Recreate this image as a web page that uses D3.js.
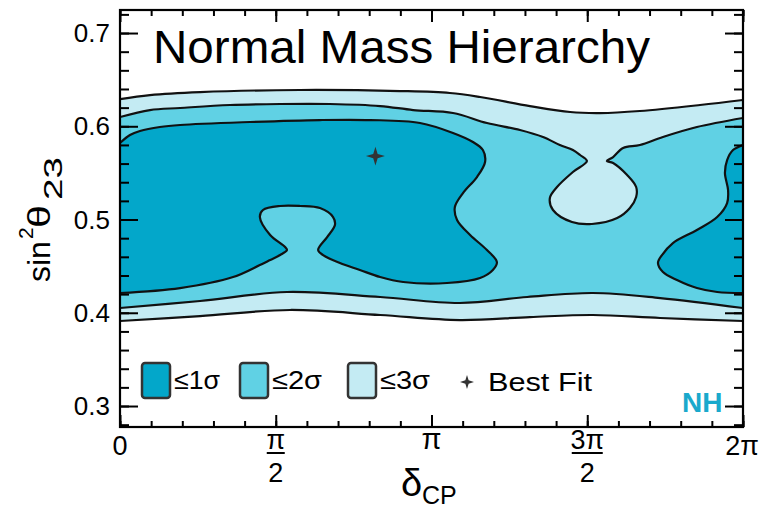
<!DOCTYPE html>
<html>
<head>
<meta charset="utf-8">
<script src="https://cdn.jsdelivr.net/npm/d3@7"></script>
<style>
  body { margin: 0; background: #fff; }
  svg { display: block; }
  text { font-family: "Liberation Sans", Arial, Helvetica, sans-serif; fill: #000; }
</style>
</head>
<body>
<div id="vis"></div>
<script>
'use strict'

////////////////////////////////////////
/////////////// Data ///////////////////
////////////////////////////////////////

// contour points: [deltaCP / pi, sin^2(theta23)]
const sigma3Top = [[0, 0.6292], [0.096, 0.6335], [0.257, 0.6367], [0.578, 0.6389], [0.899, 0.6378],
  [1.059, 0.6357], [1.156, 0.6314], [1.316, 0.6217], [1.445, 0.6153], [1.541, 0.6142],
  [1.669, 0.6164], [1.862, 0.6228], [2.0, 0.6282]];
const sigma3Bottom = [[0, 0.3912], [0.257, 0.3965], [0.546, 0.4030], [0.835, 0.3976], [1.091, 0.3922],
  [1.316, 0.3954], [1.518, 0.3976], [1.734, 0.3944], [2.0, 0.3912]];

const sigma2Top = [[0, 0.6099], [0.096, 0.6174], [0.193, 0.6196], [0.353, 0.6228], [0.514, 0.6239],
  [0.674, 0.6239], [0.835, 0.6217], [0.941, 0.6174], [1.069, 0.6142], [1.178, 0.6035],
  [1.284, 0.5960], [1.358, 0.5885], [1.412, 0.5799], [1.454, 0.5745], [1.477, 0.5692],
  [1.499, 0.5627],
  // island around 3pi/2
  [1.454, 0.5510], [1.403, 0.5349], [1.380, 0.5231], [1.390, 0.5102], [1.451, 0.4973],
  [1.515, 0.4952], [1.596, 0.5016], [1.637, 0.5124], [1.657, 0.5241], [1.657, 0.5349],
  [1.628, 0.5477], [1.583, 0.5606], [1.563, 0.5627],
  [1.583, 0.5670], [1.615, 0.5767], [1.669, 0.5799], [1.743, 0.5885], [1.852, 0.5992], [2.0, 0.6089]];
const sigma2Bottom = [[0, 0.4051], [0.257, 0.4126], [0.536, 0.4223], [0.835, 0.4169], [1.091, 0.4105],
  [1.307, 0.4169], [1.518, 0.4212], [1.734, 0.4158], [2.0, 0.4051]];

const sigma1Left = [[0, 0.5820], [0.032, 0.5906], [0.064, 0.5949], [0.128, 0.5992], [0.193, 0.6014],
  [0.417, 0.6046], [0.642, 0.6067], [0.803, 0.6067], [0.963, 0.6035], [1.069, 0.5928],
  [1.133, 0.5831], [1.165, 0.5745], [1.172, 0.5617], [1.146, 0.5456], [1.101, 0.5284],
  [1.075, 0.5134], [1.082, 0.4995], [1.124, 0.4834], [1.178, 0.4673], [1.210, 0.4544],
  [1.197, 0.4459], [1.156, 0.4373], [1.050, 0.4319], [0.909, 0.4330], [0.835, 0.4383],
  [0.770, 0.4459], [0.706, 0.4534], [0.652, 0.4619], [0.636, 0.4673], [0.665, 0.4812],
  [0.690, 0.4941], [0.684, 0.5027], [0.642, 0.5123], [0.578, 0.5145], [0.514, 0.5145],
  [0.459, 0.5102], [0.449, 0.5027], [0.482, 0.4834], [0.530, 0.4705], [0.536, 0.4673],
  [0.514, 0.4619], [0.482, 0.4566], [0.449, 0.4512], [0.363, 0.4383], [0.193, 0.4265],
  [0, 0.4212]];
const sigma1Right = [[2.0, 0.5799], [1.968, 0.5745], [1.949, 0.5638], [1.942, 0.5499], [1.952, 0.5316],
  [1.949, 0.5177], [1.917, 0.5027], [1.852, 0.4888], [1.775, 0.4748], [1.740, 0.4619],
  [1.727, 0.4534], [1.743, 0.4437], [1.788, 0.4351], [1.852, 0.4265], [1.917, 0.4223],
  [2.0, 0.4212]];

const bestFit = [0.82, 0.568];

const legendLabels = ["≤1σ", "≤2σ", "≤3σ"];
const legendColors = ["#03a7ca", "#60d1e4", "#c4ebf3"];

const yTicks = [0.3, 0.4, 0.5, 0.6, 0.7];
const yTickLabels = ["0.3", "0.4", "0.5", "0.6", "0.7"];
const xTicks = [0, 0.5, 1, 1.5, 2];

////////////////////////////////////////
////////////// SVG Setup ///////////////
////////////////////////////////////////

const width = 761, height = 508;
const plot = { left: 120, right: 743, top: 10, bottom: 427 };

const svg = d3.select('#vis').append('svg')
  .attr('width', width)
  .attr('height', height);

const x = d3.scaleLinear().domain([0, 2]).range([plot.left, plot.right]);
const y = d3.scaleLinear().domain([0.2775, 0.7247]).range([plot.bottom, plot.top]);

svg.append('defs').append('clipPath').attr('id', 'clip')
  .append('rect')
  .attr('x', plot.left).attr('y', plot.top)
  .attr('width', plot.right - plot.left).attr('height', plot.bottom - plot.top);

////////////////////////////////////////
////////////// Contours ////////////////
////////////////////////////////////////

const line = d3.line()
  .x(d => x(d[0]))
  .y(d => y(d[1]))
  .curve(d3.curveCatmullRom.alpha(0.5));

const band = (top, bottom) => line(top) + line(bottom.slice().reverse()).replace(/^M/, 'L') + 'Z';

const g = svg.append('g').attr('clip-path', 'url(#clip)');

g.append('path').attr('d', band(sigma3Top, sigma3Bottom)).attr('fill', legendColors[2]);
g.append('path').attr('d', band(sigma2Top, sigma2Bottom)).attr('fill', legendColors[1]);
g.append('path').attr('d', line(sigma1Left) + 'Z').attr('fill', legendColors[0]);
g.append('path').attr('d', line(sigma1Right) + 'Z').attr('fill', legendColors[0]);

[sigma3Top, sigma3Bottom, sigma2Top, sigma2Bottom, sigma1Left, sigma1Right].forEach(c => {
  g.append('path')
    .attr('d', line(c))
    .attr('fill', 'none')
    .attr('stroke', '#111')
    .attr('stroke-width', 2.2)
    .attr('stroke-linejoin', 'round');
});

// 4-point star symbol
const star4 = {
  draw(ctx, size) {
    const r = Math.sqrt(size), ri = r * 0.33;
    for (let i = 0; i < 8; i++) {
      const a = i * Math.PI / 4 - Math.PI / 2;
      const rr = i % 2 ? ri : r;
      if (i === 0) ctx.moveTo(rr * Math.cos(a), rr * Math.sin(a));
      else ctx.lineTo(rr * Math.cos(a), rr * Math.sin(a));
    }
    ctx.closePath();
  }
};

svg.append('path')
  .attr('d', d3.symbol(star4, 90)())
  .attr('transform', `translate(${x(bestFit[0])},${y(bestFit[1])})`)
  .attr('fill', '#333');

////////////////////////////////////////
//////////////// Axes //////////////////
////////////////////////////////////////

const yMinor = d3.ticks(0.28, 0.72, 22);
const xMinor = d3.ticks(0, 2, 20);

function addAxis(axis, tf) {
  const a = svg.append('g').attr('transform', tf).call(axis);
  a.select('.domain').remove();
  a.selectAll('line').attr('stroke', '#000').attr('stroke-width', 2);
  a.selectAll('text').remove();
}

addAxis(d3.axisLeft(y).tickValues(yMinor).tickSize(-9), `translate(${plot.left},0)`);
addAxis(d3.axisLeft(y).tickValues(yTicks).tickSize(-18), `translate(${plot.left},0)`);
addAxis(d3.axisRight(y).tickValues(yMinor).tickSize(-9), `translate(${plot.right},0)`);
addAxis(d3.axisRight(y).tickValues(yTicks).tickSize(-18), `translate(${plot.right},0)`);
addAxis(d3.axisBottom(x).tickValues(xMinor).tickSize(-6), `translate(0,${plot.bottom})`);
addAxis(d3.axisBottom(x).tickValues(xTicks).tickSize(-12), `translate(0,${plot.bottom})`);
addAxis(d3.axisTop(x).tickValues(xMinor).tickSize(-6), `translate(0,${plot.top})`);
addAxis(d3.axisTop(x).tickValues(xTicks).tickSize(-12), `translate(0,${plot.top})`);

svg.append('rect')
  .attr('x', plot.left).attr('y', plot.top)
  .attr('width', plot.right - plot.left).attr('height', plot.bottom - plot.top)
  .attr('fill', 'none').attr('stroke', '#000').attr('stroke-width', 2.2);

// y tick labels
svg.selectAll('.ylab').data(yTicks).join('text')
  .attr('x', 110)
  .attr('y', d => y(d) + 9)
  .attr('text-anchor', 'end')
  .attr('font-size', 26)
  .text((d, i) => yTickLabels[i]);

// x tick labels
const xl = svg.append('g').attr('font-size', 27).attr('text-anchor', 'middle');
xl.append('text').attr('x', x(0)).attr('y', 455).text('0');
xl.append('text').attr('x', x(1)).attr('y', 449).attr('font-size', 29).text('π');
xl.append('text').attr('x', x(2) - 1).attr('y', 455).text('2π');

function fracLabel(v, num, w) {
  const cx = x(v);
  xl.append('text').attr('x', cx).attr('y', 449).text(num);
  xl.append('line')
    .attr('x1', cx - w / 2).attr('x2', cx + w / 2)
    .attr('y1', 453).attr('y2', 453)
    .attr('stroke', '#000').attr('stroke-width', 2);
  xl.append('text').attr('x', cx).attr('y', 482).text('2');
}
fracLabel(0.5, 'π', 18);
fracLabel(1.5, '3π', 31);

// axis titles
const xt = svg.append('g');
xt.append('text')
  .attr('x', 401).attr('y', 496)
  .attr('font-size', 38)
  .text('δ');
xt.append('text')
  .attr('x', 422).attr('y', 504)
  .attr('font-size', 25)
  .text('CP');

const yt = svg.append('g').attr('transform', 'translate(50,282) rotate(-90)');
yt.append('text').attr('x', 0).attr('y', 0).attr('font-size', 32).text('sin');
yt.append('text').attr('x', 43).attr('y', -17).attr('font-size', 21).text('2');
yt.append('text').attr('x', 54).attr('y', 0).attr('font-size', 32)
  .attr('textLength', 23).attr('lengthAdjust', 'spacingAndGlyphs').text('θ');
yt.append('text').attr('x', 82).attr('y', 12).attr('font-size', 25)
  .attr('textLength', 43).attr('lengthAdjust', 'spacingAndGlyphs').text('23');

// title
svg.append('text')
  .attr('x', 153).attr('y', 63)
  .attr('font-size', 46)
  .attr('textLength', 497).attr('lengthAdjust', 'spacingAndGlyphs')
  .text('Normal Mass Hierarchy');

////////////////////////////////////////
////////////// Legend //////////////////
////////////////////////////////////////

const legendX = [142, 240, 348];
const legendTextW = [46, 50, 50];

legendLabels.forEach((lab, i) => {
  svg.append('rect')
    .attr('x', legendX[i]).attr('y', 363)
    .attr('width', 28).attr('height', 35)
    .attr('rx', 3)
    .attr('fill', legendColors[i])
    .attr('stroke', '#333').attr('stroke-width', 2.5);
  svg.append('text')
    .attr('x', legendX[i] + 32).attr('y', 389)
    .attr('font-size', 26)
    .attr('textLength', legendTextW[i]).attr('lengthAdjust', 'spacingAndGlyphs')
    .text(lab);
});

svg.append('path')
  .attr('d', d3.symbol(star4, 49)())
  .attr('transform', 'translate(467,382)')
  .attr('fill', '#333');

svg.append('text')
  .attr('x', 488).attr('y', 391)
  .attr('font-size', 25)
  .attr('textLength', 104).attr('lengthAdjust', 'spacingAndGlyphs')
  .text('Best Fit');

svg.append('text')
  .attr('x', 682).attr('y', 412)
  .attr('font-size', 28)
  .attr('font-weight', 'bold')
  .style('fill', '#1aa9cc')
  .text('NH');
</script>
</body>
</html>
